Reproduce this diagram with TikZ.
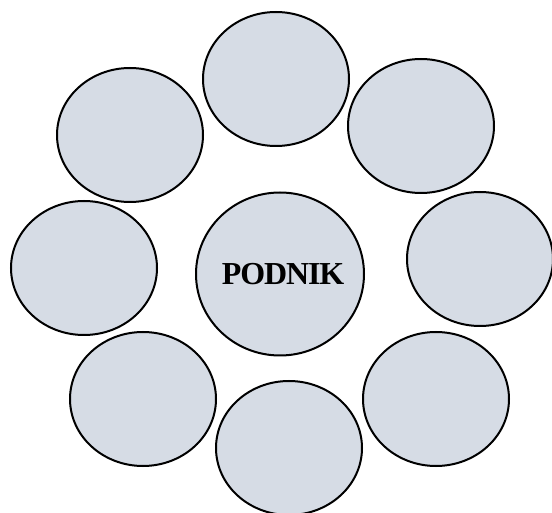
\documentclass[tikz,border=0pt]{standalone}
\usepackage{fontspec}
\setmainfont{Liberation Serif}
\newfontfamily\hubfont[LetterSpace=-3.5]{Liberation Serif}
\usetikzlibrary{shapes.geometric}
\definecolor{bubble}{RGB}{214,220,229}
\begin{document}
\begin{tikzpicture}[x=1pt,y=1pt,
  outer/.style={ellipse,draw=black,line width=2pt,fill=bubble,minimum width=146pt,minimum height=134pt,inner sep=0pt},
  hub/.style={ellipse,draw=black,line width=2pt,fill=bubble,minimum width=168pt,minimum height=163pt,inner sep=0pt,font=\hubfont\bfseries\fontsize{32}{36}\selectfont}]
\useasboundingbox (0,0) rectangle (552,512);
\clip (0,0) rectangle (552,512);
\node[outer] (top) at (276,433) {};
\node[outer] (ul) at (130,377) {};
\node[outer] (ur) at (421,386) {};
\node[outer] (l) at (84,244) {};
\node[outer] (r) at (480,253) {};
\node[outer] (ll) at (143,113) {};
\node[outer] (lr) at (436,113) {};
\node[outer] (b) at (289,64) {};
\node[hub] (c) at (280,238) {\makebox[0pt]{\hspace*{6pt}PODNIK}};
\end{tikzpicture}
\end{document}
